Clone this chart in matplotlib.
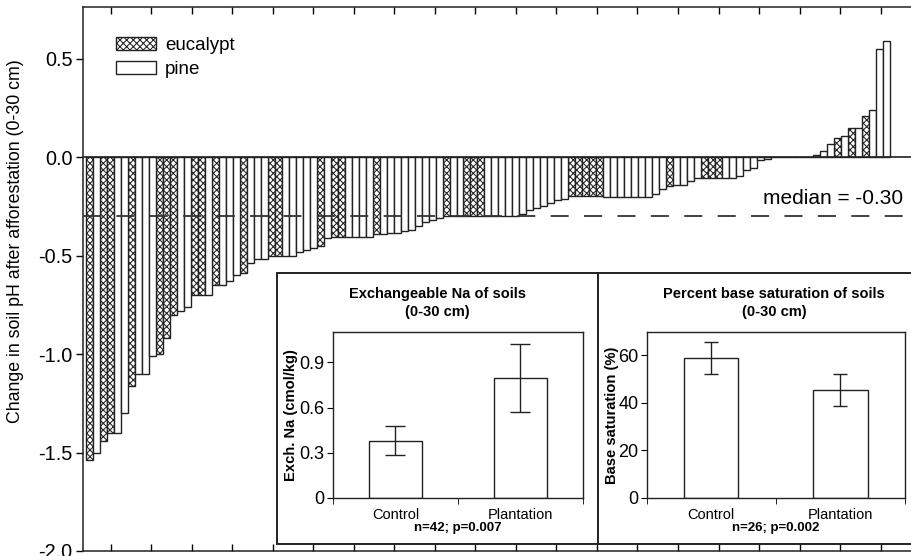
import matplotlib
matplotlib.use("Agg")
import matplotlib.pyplot as plt
from matplotlib.patches import Rectangle
import matplotlib.transforms as mtransforms
import numpy as np

plt.rcParams['font.family'] = ['Liberation Sans', 'DejaVu Sans']
plt.rcParams['hatch.linewidth'] = 0.75

# change in soil pH per paired site, sorted; E = eucalypt, P = pine
ph_change = [
    -1.54, -1.50, -1.44, -1.40, -1.40, -1.30, -1.16, -1.10, -1.10, -1.01,
    -1.00, -0.92, -0.80, -0.78, -0.76, -0.70, -0.70, -0.70, -0.65, -0.65,
    -0.63, -0.60, -0.59, -0.54, -0.52, -0.52, -0.50, -0.50, -0.50, -0.50,
    -0.48, -0.47, -0.463, -0.454, -0.41, -0.405, -0.405, -0.405, -0.405, -0.405,
    -0.405, -0.39, -0.39, -0.386, -0.386, -0.378, -0.37, -0.352, -0.332, -0.318,
    -0.31, -0.30, -0.30, -0.30, -0.30, -0.30, -0.30, -0.30, -0.30, -0.30,
    -0.30, -0.30, -0.29, -0.267, -0.259, -0.247, -0.234, -0.22, -0.213, -0.20,
    -0.20, -0.20, -0.20, -0.20, -0.205, -0.205, -0.205, -0.205, -0.205, -0.205,
    -0.205, -0.19, -0.162, -0.149, -0.143, -0.143, -0.124, -0.104, -0.104, -0.104,
    -0.104, -0.104, -0.104, -0.095, -0.064, -0.056, -0.014, -0.012, 0.0, 0.0,
    0.0, 0.0, 0.0, 0.0, 0.01, 0.029, 0.068, 0.096, 0.108, 0.147,
    0.147, 0.21, 0.239, 0.548, 0.587,
]
species = (
    "EPEEPPEPPP" "EEEPPEEPEP" "PPEPPPEEPP"
    "PPPEPEEPPP" "PEPPPPPPPP" "PEPPEEEPPP"
    "PPPPPPPPPE" "EEEEPPPPPP" "PPPEPPPPEE"
    "EPPPPPPPPP" "PPPPPPPEPE" "PEPPP"
)
median_val = -0.30

na_groups = ["Control", "Plantation"]
na_mean = [0.38, 0.795]
na_err = [0.095, 0.225]

bs_groups = ["Control", "Plantation"]
bs_mean = [58.6, 45.3]
bs_err = [6.7, 6.8]

W, H = 912, 556
fig = plt.figure(figsize=(W / 100, H / 100), dpi=100)

def fx(px):
    return px / W

def fy(py):
    return 1 - py / H

ax = fig.add_axes([fx(83.5), fy(551), fx(912 - 83.5) + 0.01, (551 - 7.3) / H])
x = np.arange(len(ph_change))
vals = np.array(ph_change)
euc = np.array([s == "E" for s in species])
edge = "#222222"
ax.bar(x[euc], vals[euc], width=1.0, color="white", edgecolor=edge,
       linewidth=1.0, hatch="xxxxx", label="eucalypt", zorder=2)
ax.bar(x[~euc], vals[~euc], width=1.0, color="white", edgecolor=edge,
       linewidth=1.0, label="pine", zorder=2)
ax.axhline(0, color=edge, lw=1.2, zorder=3)
ax.axhline(median_val, color="#333333", lw=1.3, dashes=(10, 8.5), zorder=4)
trans = mtransforms.blended_transform_factory(fig.transFigure, ax.transData)
ax.text(fx(903), -0.21, "median = -0.30", transform=trans,
        ha="right", va="center", fontsize=15)

ax.set_xlim(-0.89, 114.34 + 0.01 * W / 7.19)
ax.set_ylim(-2.0, 0.76)
ax.set_yticks([-2.0, -1.5, -1.0, -0.5, 0.0, 0.5])
ax.set_yticklabels(["%.1f" % v for v in [-2.0, -1.5, -1.0, -0.5, 0.0, 0.5]])
ax.tick_params(axis="y", direction="out", length=5, width=1, labelsize=14.3, pad=3)
ax.set_xticks(np.arange(3.0, 120, 5.8))
ax.tick_params(axis="x", direction="in", length=5, width=1, labelbottom=False,
               top=True)
for s in ax.spines.values():
    s.set_linewidth(1.1)
    s.set_color(edge)
ax.set_ylabel("Change in soil pH after afforestation (0-30 cm)", fontsize=12.8)
ax.yaxis.set_label_coords(-0.071, 0.570)
ax.legend(loc="upper left", bbox_to_anchor=(0.03, 0.959), frameon=False,
          fontsize=13.5, handlelength=2.15, handleheight=0.7, labelspacing=0.35,
          handletextpad=0.45, borderaxespad=0)

# inset frames
fig.patches.append(Rectangle((fx(277), fy(544)), fx(598 - 277), (544 - 273) / H,
                             transform=fig.transFigure, facecolor="white",
                             edgecolor=edge, lw=1.4, zorder=5))
fig.patches.append(Rectangle((fx(598), fy(544)), fx(400), (544 - 273) / H,
                             transform=fig.transFigure, facecolor="white",
                             edgecolor=edge, lw=1.4, zorder=5))

def inset(left, width, groups, means, errs, ylim, yticks, yticklabels,
          title, title_x, ylabel, ylabel_x, note, cap):
    a = fig.add_axes([fx(left), fy(497.7), fx(width), (497.7 - 331.7) / H], zorder=6)
    a.bar([0, 1], means, width=0.42, color="white", edgecolor=edge, lw=1.0,
          yerr=errs, error_kw=dict(ecolor=edge, elinewidth=1.0, capsize=cap,
                                   capthick=1.0))
    a.set_xlim(-0.5, 1.5)
    a.set_ylim(*ylim)
    a.set_yticks(yticks)
    a.set_yticklabels(yticklabels)
    a.set_xticks([0, 1])
    a.set_xticklabels(groups)
    a.set_xticks([-0.5, 0.5, 1.5], minor=True)
    a.tick_params(axis="x", which="major", length=0, labelsize=10.5, pad=7.5)
    a.tick_params(axis="x", which="minor", length=4, direction="out")
    a.tick_params(axis="y", length=4, direction="out", labelsize=13, pad=2)
    for s in a.spines.values():
        s.set_linewidth(1.0)
        s.set_color(edge)
    fig.text(fx(title_x), fy(303), title, ha="center", va="center",
             fontsize=10.5, fontweight="bold", linespacing=1.4, zorder=7)
    fig.text(fx(ylabel_x), fy(415), ylabel, ha="center", va="center",
             rotation=90, fontsize=10.6, fontweight="bold", zorder=7)
    fig.text(fx(left + width / 2), fy(528.5), note, ha="center", va="center",
             fontsize=9.5, fontweight="bold", zorder=7)
    return a

inset(333, 250, na_groups, na_mean, na_err, (0, 1.105), [0, 0.3, 0.6, 0.9],
      ["0", "0.3", "0.6", "0.9"],
      "Exchangeable Na of soils\n(0-30 cm)", 437.5,
      "Exch. Na (cmol/kg)", 291, "n=42; p=0.007", 7.5)
inset(646.7, 258.3, bs_groups, bs_mean, bs_err, (0, 69.8), [0, 20, 40, 60],
      ["0", "20", "40", "60"],
      "Percent base saturation of soils\n(0-30 cm)", 774,
      "Base saturation (%)", 612, "n=26; p=0.002", 4.7)

fig.savefig("out.png", dpi=100)
